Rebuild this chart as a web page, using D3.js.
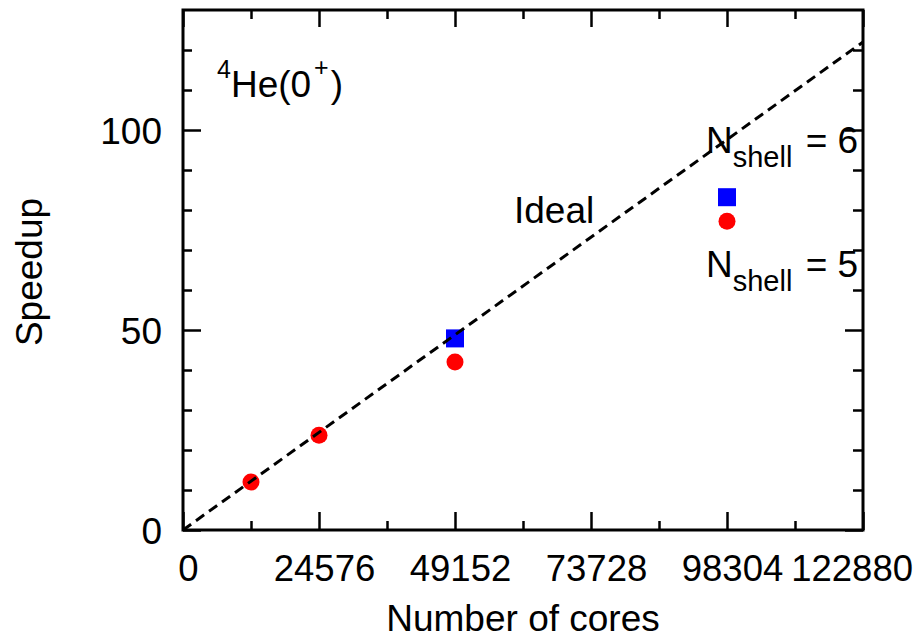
<!DOCTYPE html>
<html>
<head>
<meta charset="utf-8">
<script src="https://cdn.jsdelivr.net/npm/d3@7"></script>
<style>
  html, body { margin: 0; padding: 0; background: #fff; }
  svg { display: block; font-family: "Liberation Sans", Arial, sans-serif; }
</style>
</head>
<body>
<svg id="chart" width="924" height="640"></svg>
<script>
// Speedup measurements for two model-space sizes
const coresN5 = [12288, 24576, 49152, 98304];
const speedupN5 = [12, 23.7, 42, 77.2];
const coresN6 = [49152, 98304];
const speedupN6 = [47.9, 83.2];

// Ideal scaling reference line
const idealCores = [0, 122880];
const idealSpeedup = [0, 122];

// Axis ticks
const xMajor = [0, 24576, 49152, 73728, 98304, 122880];
const xMinor = [12288, 36864, 61440, 86016, 110592];
const yMajor = [0, 50, 100];
const yMinor = [10, 20, 30, 40, 60, 70, 80, 90, 110, 120];

const W = 924, H = 640;
const m = { left: 183, top: 10, right: 61, bottom: 110 };
const iw = W - m.left - m.right, ih = H - m.top - m.bottom;

const svg = d3.select("#chart");
const g = svg.append("g").attr("transform", `translate(${m.left},${m.top})`);

const x = d3.scaleLinear().domain([0, 122880]).range([0, iw]);
const y = d3.scaleLinear().domain([0, 130]).range([ih, 0]);

function styleAxis(sel, size) {
  sel.select(".domain").remove();
  sel.selectAll(".tick line").attr("stroke", "#000").attr("stroke-width", 2.5);
  sel.selectAll(".tick text").attr("fill", "#000").style("font-size", (size || 36) + "px")
     .style("font-family", '"Liberation Sans", Arial, sans-serif');
}

// Bottom axis (major with labels, minor without)
const bx = g.append("g").attr("transform", `translate(0,${ih})`)
  .call(d3.axisBottom(x).tickValues(xMajor).tickSize(-18).tickPadding(25).tickFormat(d3.format("d")));
styleAxis(bx, 36.5);
bx.selectAll(".tick text").attr("dx", 5);
bx.selectAll(".tick text").each(function () {
  const b = this.getBBox();
  const tr = this.parentNode.transform.baseVal.consolidate().matrix.e;
  const right = m.left + tr + b.x + b.width + 5;
  if (right > 918) d3.select(this).attr("dx", 5 - (right - 918));
});
styleAxis(g.append("g").attr("transform", `translate(0,${ih})`)
  .call(d3.axisBottom(x).tickValues(xMinor).tickSize(-9).tickFormat("")));

// Top axis
styleAxis(g.append("g")
  .call(d3.axisTop(x).tickValues(xMajor).tickSize(-17).tickFormat("")));
styleAxis(g.append("g")
  .call(d3.axisTop(x).tickValues(xMinor).tickSize(-9).tickFormat("")));

// Left axis
const ly = g.append("g")
  .call(d3.axisLeft(y).tickValues(yMajor).tickSize(-18).tickPadding(21).tickFormat(d3.format("d")));
styleAxis(ly, 37);
ly.selectAll(".tick text").attr("dy", "0.36em");
styleAxis(g.append("g")
  .call(d3.axisLeft(y).tickValues(yMinor).tickSize(-9).tickFormat("")));

// Right axis
styleAxis(g.append("g").attr("transform", `translate(${iw},0)`)
  .call(d3.axisRight(y).tickValues(yMajor).tickSize(-18).tickFormat("")));
styleAxis(g.append("g").attr("transform", `translate(${iw},0)`)
  .call(d3.axisRight(y).tickValues(yMinor).tickSize(-10).tickFormat("")));

// Frame
g.append("rect").attr("x", 0).attr("y", 0).attr("width", iw).attr("height", ih)
  .attr("fill", "none").attr("stroke", "#000").attr("stroke-width", 3);

// N_shell = 5 points (red circles)
g.selectAll("circle.n5").data(coresN5.map((c, i) => [c, speedupN5[i]]))
  .enter().append("circle").attr("class", "n5")
  .attr("cx", d => x(d[0])).attr("cy", d => y(d[1])).attr("r", 8.5)
  .attr("fill", "#ff0000");

// N_shell = 6 points (blue squares)
const sq = 18;
g.selectAll("rect.n6").data(coresN6.map((c, i) => [c, speedupN6[i]]))
  .enter().append("rect").attr("class", "n6")
  .attr("x", d => x(d[0]) - sq / 2).attr("y", d => y(d[1]) - sq / 2)
  .attr("width", sq).attr("height", sq).attr("fill", "#0000ff");

// Ideal scaling line
g.append("path")
  .datum(idealCores.map((c, i) => [c, idealSpeedup[i]]))
  .attr("d", d3.line().x(d => x(d[0])).y(d => y(d[1])))
  .attr("fill", "none").attr("stroke", "#000").attr("stroke-width", 3)
  .attr("stroke-dasharray", "10,6");

// Axis titles
svg.append("text").attr("x", 523).attr("y", 631).attr("text-anchor", "middle")
  .style("font-size", "37px").attr("fill", "#000").text("Number of cores");
svg.append("text").attr("transform", "translate(42,272) rotate(-90)")
  .attr("text-anchor", "middle").style("font-size", "37px").attr("fill", "#000").text("Speedup");

// Annotations
svg.append("text").attr("x", 514).attr("y", 223).style("font-size", "37px")
  .attr("fill", "#000").text("Ideal");

const he = svg.append("text").attr("x", 217).attr("y", 97).attr("fill", "#000");
he.append("tspan").style("font-size", "25px").attr("dy", -19).text("4");
he.append("tspan").style("font-size", "37px").attr("dy", 19).text("He(0");
he.append("tspan").style("font-size", "25px").attr("dy", -21).attr("dx", 3).text("+");
he.append("tspan").style("font-size", "37px").attr("dy", 21).attr("dx", 2).text(")");

function nshell(yBase, n) {
  const t = svg.append("text").attr("x", 706).attr("y", yBase).attr("fill", "#000");
  t.append("tspan").style("font-size", "37px").text("N");
  t.append("tspan").style("font-size", "29px").attr("dy", 14).text("shell");
  t.append("tspan").style("font-size", "37px").attr("dy", -14).attr("dx", 3).text(" = " + n);
}
nshell(153, 6);
nshell(277, 5);
</script>
</body>
</html>
